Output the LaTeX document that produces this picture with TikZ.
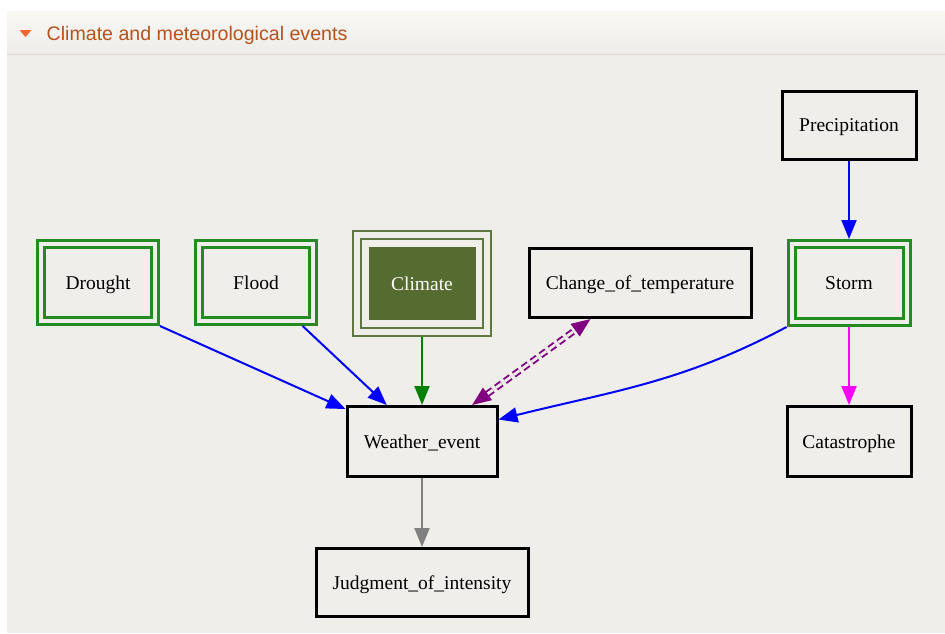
\documentclass[tikz,border=0pt]{standalone}
\usepackage{fontspec}
\setmainfont{Liberation Serif}
\newfontfamily\headfont{Liberation Sans}
\usetikzlibrary{arrows.meta,fit}

\definecolor{panelbg}{RGB}{240,238,234}
\definecolor{headtop}{RGB}{249,248,245}
\definecolor{headbot}{RGB}{239,237,233}
\definecolor{headline}{RGB}{230,214,200}
\definecolor{titlecol}{RGB}{182,82,28}
\definecolor{markcol}{RGB}{240,104,48}
\definecolor{framegreen}{RGB}{34,139,34}
\definecolor{climfill}{RGB}{85,107,47}
\definecolor{climline}{RGB}{98,118,66}
\definecolor{edgegreen}{RGB}{0,128,0}
\definecolor{edgeblue}{RGB}{0,0,255}
\definecolor{edgemag}{RGB}{255,0,255}
\definecolor{edgepurple}{RGB}{128,0,128}
\definecolor{edgegray}{RGB}{128,128,128}

\tikzset{
  lbl/.style={font=\fontsize{19.5}{23}\selectfont, inner sep=0pt,
    text height=17.5pt, text depth=4.5pt},
  plainbox/.style={lbl, draw=black, line width=3pt, fill=panelbg},
  greenbox/.style={lbl, draw=framegreen, line width=3pt, double=panelbg,
    double distance=4pt, minimum width=114pt, minimum height=77pt, outer sep=5pt},
  climbox/.style={lbl, fill=climfill, text=white, minimum width=107pt, minimum height=73pt},
  climframe/.style={draw=climline, line width=2pt, double=panelbg,
    double distance=6pt, inner sep=11.5pt, outer sep=5pt},
  bigtip/.style={-{Triangle[length=19pt,width=15pt]}},
  conn/.style={bigtip, line width=2pt},
}

\begin{document}
\begin{tikzpicture}[x=1pt,y=-1pt]
  % page, panel and header strip
  \useasboundingbox (0,0) rectangle (945,633);
  \fill[white] (0,0) rectangle (945,633);
  \fill[panelbg] (7,11) rectangle (945,633);
  \shade[top color=headtop, bottom color=headbot] (7,11) rectangle (945,54);
  \draw[headline, line width=1.5pt] (7,54.5) -- (945,54.5);
  \fill[markcol] (19.5,30) -- (31.5,30) -- (25.5,37) -- cycle;
  \node[anchor=base west, inner sep=0pt, text=titlecol,
        font=\headfont\fontsize{19.6}{23}\selectfont] (title) at (46.5,40)
        {Climate and meteorological events};

  % nodes
  \node[plainbox, minimum width=134pt, minimum height=68pt] (pr) at (849,125) {Precipitation};
  \node[greenbox] (dr) at (98,282.5) {Drought};
  \node[greenbox] (fl) at (256,282.5) {Flood};
  \node[climbox] (cl) at (422,283.5) {Climate};
  \node[climframe, fit=(cl)] (clf) {};
  \node[plainbox, minimum width=222pt, minimum height=69pt] (ct) at (640,283) {Change\_of\_temperature};
  \node[greenbox, minimum width=115pt, minimum height=78pt] (st) at (849,283) {Storm};
  \node[plainbox, minimum width=150pt, minimum height=70pt] (we) at (422,441.5) {Weather\_event};
  \node[plainbox, minimum width=124pt, minimum height=70pt] (ca) at (849,441.5) {Catastrophe};
  \node[plainbox, minimum width=212pt, minimum height=68pt] (ju) at (422,582.5) {Judgment\_of\_intensity};

  % connectors
  \draw[conn, edgeblue] (pr) -- (st);
  \draw[conn, edgemag] (st) -- (ca);
  \draw[conn, edgeblue] (dr.south east) -- (we.157);
  \draw[conn, edgeblue] (fl.-43) -- (we.134);
  \draw[conn, edgegreen] (clf) -- (we);
  \draw[conn, edgeblue] (st.south west) to[out=208, in=14] (we.16);
  \draw[conn, edgegray] (we) -- (ju);
  \draw[{Triangle[length=19pt,width=15pt]}-{Triangle[length=19pt,width=15pt]},
        edgepurple, line width=1.9pt, double=panelbg, double distance=2.8pt,
        dash pattern=on 7pt off 4pt] (we) -- (ct);
\end{tikzpicture}
\end{document}
